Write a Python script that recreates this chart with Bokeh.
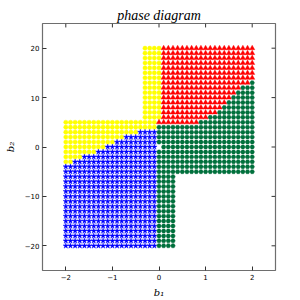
from bokeh.plotting import figure
from bokeh.models import Range1d, FixedTicker
from bokeh.embed import file_html
from bokeh.resources import INLINE

# grid of parameter values
B1 = [-2.0, -1.9, -1.8, -1.7, -1.6, -1.5, -1.4, -1.3, -1.2, -1.1,
      -1.0, -0.9, -0.8, -0.7, -0.6, -0.5, -0.4, -0.3, -0.2, -0.1,
      0.0, 0.1, 0.2, 0.3, 0.4, 0.5, 0.6, 0.7, 0.8, 0.9,
      1.0, 1.1, 1.2, 1.3, 1.4, 1.5, 1.6, 1.7, 1.8, 1.9, 2.0]
B2 = [20, 19, 18, 17, 16, 15, 14, 13, 12, 11, 10, 9, 8, 7, 6, 5, 4, 3, 2, 1, 0,
      -1, -2, -3, -4, -5, -6, -7, -8, -9, -10, -11, -12, -13, -14, -15,
      -16, -17, -18, -19, -20]

# phase of each grid cell along b1 (run-length: count + code; . = none,
# Y = yellow, R = red, G = green, B = blue), one entry per b2 row
PHASE_ROWS = [
    "17. 4Y 20R",          # 20
    "17. 4Y 20R",          # 19
    "17. 4Y 20R",          # 18
    "17. 4Y 20R",          # 17
    "17. 4Y 20R",          # 16
    "17. 4Y 20R",          # 15
    "17. 4Y 20R",          # 14
    "17. 4Y 19R 1G",       # 13
    "17. 4Y 17R 3G",       # 12
    "17. 4Y 16R 4G",       # 11
    "17. 4Y 15R 5G",       # 10
    "17. 4Y 14R 6G",       # 9
    "17. 4Y 13R 7G",       # 8
    "17. 4Y 12R 8G",       # 7
    "17. 4Y 10R 10G",      # 6
    "20Y 9R 12G",          # 5
    "20Y 21G",             # 4
    "16Y 4B 21G",          # 3
    "13Y 7B 21G",          # 2
    "11Y 9B 21G",          # 1
    "9Y 11B 1. 20G",       # 0
    "7Y 13B 21G",          # -1
    "4Y 16B 21G",          # -2
    "2Y 18B 21G",          # -3
    "20B 21G",             # -4
    "20B 21G",             # -5
] + ["20B 4G 17."] * 15    # -6 .. -20

XT = [-2, -1, 0, 1, 2]
YT = [-20, -10, 0, 10, 20]
X0, X1 = -2.5, 2.5
Y0, Y1 = -25, 25

COLORS = {"Y": "#FFFF00", "R": "#FF0000", "G": "#00703C", "B": "#0000FF"}
MARKERS = {"Y": "circle", "R": "triangle", "G": "hex", "B": "star"}
SIZES = {"Y": 4.3, "R": 5.2, "G": 4.6, "B": 5.8}


def decode(row):
    out = []
    for tok in row.split():
        out.extend(tok[-1] * int(tok[:-1]))
    return out


pts = {k: ([], []) for k in "YRGB"}
for b2, row in zip(B2, PHASE_ROWS):
    for b1, code in zip(B1, decode(row)):
        if code in pts:
            pts[code][0].append(b1)
            pts[code][1].append(b2)

p = figure(width=300, height=300, output_backend="svg", toolbar_location=None,
           x_range=Range1d(X0, X1), y_range=Range1d(Y0, Y1),
           min_border_left=42, min_border_right=25,
           min_border_top=23, min_border_bottom=30)
p.grid.visible = False
p.background_fill_color = "white"
p.border_fill_color = "white"
p.outline_line_color = "#6e6e6e"
p.outline_line_width = 1.2

for code in ["Y", "B", "R", "G"]:
    xs, ys = pts[code]
    p.scatter(xs, ys, marker=MARKERS[code], size=SIZES[code],
              fill_color=COLORS[code], line_color=COLORS[code], line_width=0.4)

# title
p.title.text = "phase diagram"
p.title.align = "center"
p.title.text_font = "Liberation Serif"
p.title.text_font_style = "italic"
p.title.text_font_size = "14px"
p.title.text_color = "black"
p.title.standoff = 1

for ax, ticks in ((p.xaxis[0], XT), (p.yaxis[0], YT)):
    ax.ticker = FixedTicker(ticks=ticks)
    ax.axis_line_color = None
    ax.major_tick_in = 4
    ax.major_tick_out = 0
    ax.minor_tick_in = 0
    ax.minor_tick_out = 0
    ax.major_tick_line_color = "#333333"
    ax.major_label_standoff = 3
    ax.major_label_text_font = "DejaVu Sans"
    ax.major_label_text_font_size = "7px"
    ax.major_label_text_color = "black"
    ax.major_label_overrides = {t: (str(t) if t >= 0 else "\u2212" + str(-t)) for t in ticks}
    ax.axis_label_text_font = "DejaVu Serif"
    ax.axis_label_text_font_style = "italic"
    ax.axis_label_text_font_size = "10px"
    ax.axis_label_text_color = "black"

p.xaxis.axis_label = "b\u2081"
p.xaxis.axis_label_standoff = 4
p.yaxis.axis_label = "b\u2082"
p.yaxis.axis_label_standoff = 6

# inward tick marks on the top and right edges, at the axis tick values
tick_len_y = 0.8
tick_len_x = 0.085
p.segment(x0=XT, y0=[Y1] * len(XT), x1=XT, y1=[Y1 - tick_len_y] * len(XT),
          line_color="#333333", line_width=1)
p.segment(x0=[X1] * len(YT), y0=YT, x1=[X1 - tick_len_x] * len(YT), y1=YT,
          line_color="#333333", line_width=1)

open("out.html", "w").write(file_html(p, INLINE))
